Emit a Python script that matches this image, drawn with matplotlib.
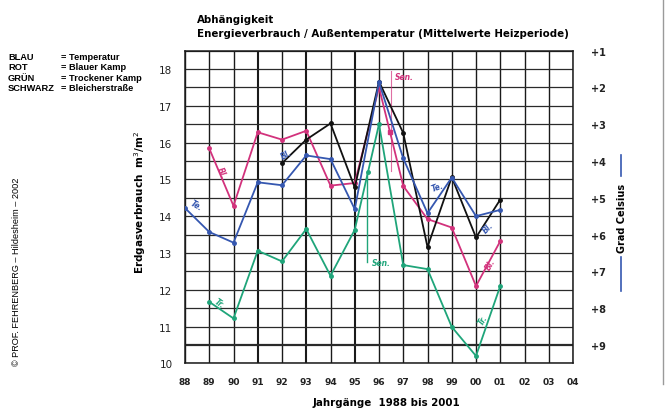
import matplotlib.pyplot as plt
import numpy as np

# Jahrgänge (Heizperioden) 1988 .. 2001, Achse bis 2004
jahre_achse = np.arange(88, 105)
jahr_labels = ['%02d' % (j % 100) for j in jahre_achse]

# Mittlere Außentemperatur (Grad Celsius), BLAU
jahre_temp = np.arange(88, 102)
temperatur = [5.28, 5.93, 6.22, 4.58, 4.66, 3.85, 3.95, 5.31, 1.86, 3.93, 5.42, 4.45, 5.5, 5.33]

# Erdgasverbrauch m3/m2
jahre_bk = np.arange(89, 102)
blauer_kamp = [15.84, 14.28, 16.28, 16.08, 16.32, 14.83, 14.9, 17.5, 14.82, 13.92, 13.69, 12.1, 13.32]

jahre_tk = np.arange(89, 102)
trockener_kamp = [11.67, 11.22, 13.06, 12.77, 13.65, 12.38, 13.63, 16.5, 12.67, 12.56, 10.99, 10.2, 12.1]

jahre_bs = np.arange(92, 102)
bleicherstr = [15.44, 16.08, 16.52, 14.78, 17.66, 16.26, 13.16, 15.06, 13.42, 14.45]

# Sanierung (Sen.) - Jahr der Markierung
sen_tk = 95.55
sen_bk = 96.45

BLAU = '#3557b0'
ROT = '#d2327c'
GRUEN = '#1fa57a'
SCHWARZ = '#111111'

fig = plt.figure(figsize=(6.67, 4.10), dpi=100)
ax = fig.add_axes([185 / 667, 45.7 / 410, 388 / 667, 312.7 / 410])
ax.set_xlim(88, 104)
ax.set_ylim(10, 18.5)

# Raster
for j in jahre_achse:
    lw = 1.5 if j in (91, 93, 95) else 1.0
    ax.axvline(j, color='#1a1a1a', lw=lw, zorder=1)
for v in np.arange(10, 18.51, 0.5):
    lw = 1.6 if v == 10.5 else 0.9
    ax.axhline(v, color='#2a2a2a', lw=lw, zorder=1)
for s in ax.spines.values():
    s.set_color('#1a1a1a')
    s.set_linewidth(1.1)

ax.set_xticks(jahre_achse)
ax.set_xticklabels(jahr_labels, fontsize=6.5, fontweight='bold', color='#222222')
ax.set_yticks(range(10, 19))
ax.set_yticklabels([str(v) for v in range(10, 19)], fontsize=7.5, color='#222222')
ax.tick_params(axis='x', length=0, pad=10)
ax.tick_params(axis='y', length=0, pad=9)

# Temperatur auf eigener, umgekehrter Achse
ax2 = ax.twinx()
ax2.set_ylim(9.5, 1)
ax2.set_yticks(range(1, 10))
ax2.set_yticklabels(['+%d' % t for t in range(1, 10)], fontsize=7, fontweight='bold', color='#222222')
ax2.tick_params(axis='y', length=0, pad=13)
for s in ax2.spines.values():
    s.set_visible(False)

ax.plot(jahre_bk, blauer_kamp, color=ROT, lw=1.3, marker='o', ms=2.5, zorder=3)
ax.plot(jahre_tk, trockener_kamp, color=GRUEN, lw=1.3, marker='o', ms=2.5, zorder=3)
ax.plot(jahre_bs, bleicherstr, color=SCHWARZ, lw=1.3, marker='o', ms=2.5, zorder=4)
ax2.plot(jahre_temp, temperatur, color=BLAU, lw=1.3, marker='o', ms=2.5, zorder=3)

# Sanierungs-Markierungen
y_tk = np.interp(sen_tk, jahre_tk, trockener_kamp)
ax.plot([sen_tk], [y_tk], 'o', color=GRUEN, ms=2.5, zorder=3)
ax.plot([sen_tk - 0.04, sen_tk - 0.04], [y_tk, 12.75], color=GRUEN, lw=1.0, zorder=3)
ax.text(sen_tk + 0.15, 12.75, 'Sen.', color=GRUEN, fontsize=5.5, fontstyle='italic',
        fontweight='bold', va='center')
y_bk = np.interp(sen_bk, jahre_bk, blauer_kamp)
ax.plot([sen_bk], [y_bk], 's', color=ROT, ms=2.5, zorder=3)
ax.plot([sen_bk + 0.03, sen_bk + 0.03], [15.23, 17.95], color=ROT, lw=0.8, alpha=0.7, zorder=3)
ax.text(sen_bk + 0.2, 17.8, 'Sen.', color=ROT, fontsize=5.5, fontstyle='italic',
        fontweight='bold', va='center')

# handschriftliche Kurzbezeichnungen
kurz = [
    (88.45, 14.3, 'Te.', BLAU, -30),
    (89.5, 15.2, 'Bl.', ROT, -65),
    (92.2, 15.7, 'Bl.', BLAU, 30),
    (98.4, 14.8, 'Te.', BLAU, 20),
    (100.5, 13.7, 'Bl.', BLAU, 45),
    (100.6, 12.7, 'Bl.', ROT, 60),
    (89.4, 11.65, 'Tr.', GRUEN, -35),
    (100.3, 11.2, 'Tr.', GRUEN, 60),
]
for x, y, t, c, r in kurz:
    ax.text(x, y, t, color=c, fontsize=5.5, fontstyle='italic', fontweight='bold',
            rotation=r, ha='center', va='center', zorder=5)

# Überschrift
fig.text(197 / 667, 1 - 20 / 410, 'Abhängigkeit', fontsize=7.4, fontweight='bold',
         family='DejaVu Sans', va='center')
fig.text(197 / 667, 1 - 34 / 410, 'Energieverbrauch / Außentemperatur (Mittelwerte Heizperiode)',
         fontsize=7.4, fontweight='bold', family='DejaVu Sans', va='center')

# Legende
farben = ['BLAU', 'ROT', 'GRÜN', 'SCHWARZ']
bedeutung = ['= Temperatur', '= Blauer Kamp', '= Trockener Kamp', '= Bleicherstraße']
for i, (f, b) in enumerate(zip(farben, bedeutung)):
    yy = 1 - (57.5 + i * 10.3) / 410
    fig.text(8 / 667, yy, f, fontsize=6.7, fontweight='bold', family='Liberation Sans', va='center')
    fig.text(61 / 667, yy, b, fontsize=6.7, fontweight='bold', family='Liberation Sans', va='center')

# Achsenbeschriftungen
fig.text(140 / 667, 1 - 202 / 410, 'Erdgasverbrauch  m$^3$/m$^2$', rotation=90, fontsize=7.5,
         fontweight='bold', family='DejaVu Sans', ha='center', va='center')
fig.text(386 / 667, 1 - 403 / 410, 'Jahrgänge  1988 bis 2001', fontsize=7.4, fontweight='bold',
         family='DejaVu Sans', ha='center', va='center')
fig.text(622 / 667, 1 - 218 / 410, 'Grad Celsius', rotation=90, fontsize=7, fontweight='bold',
         family='DejaVu Sans', ha='center', va='center')
fig.add_artist(plt.Line2D([621 / 667, 621 / 667], [1 - 156 / 410, 1 - 177 / 410], color=BLAU, lw=1.2))
fig.add_artist(plt.Line2D([621 / 667, 621 / 667], [1 - 258 / 410, 1 - 292 / 410], color=BLAU, lw=1.2))

fig.text(17 / 667, 1 - 272 / 410, '© PROF. FEHRENBERG – Hildesheim – 2002', rotation=90, fontsize=6.6,
         family='Liberation Sans', ha='center', va='center')

# Rand rechts
fig.add_artist(plt.Line2D([663 / 667, 663 / 667], [1 - 385 / 410, 1.0], color='#9a9a9a', lw=1.0))

fig.savefig('out.png', dpi=100)
